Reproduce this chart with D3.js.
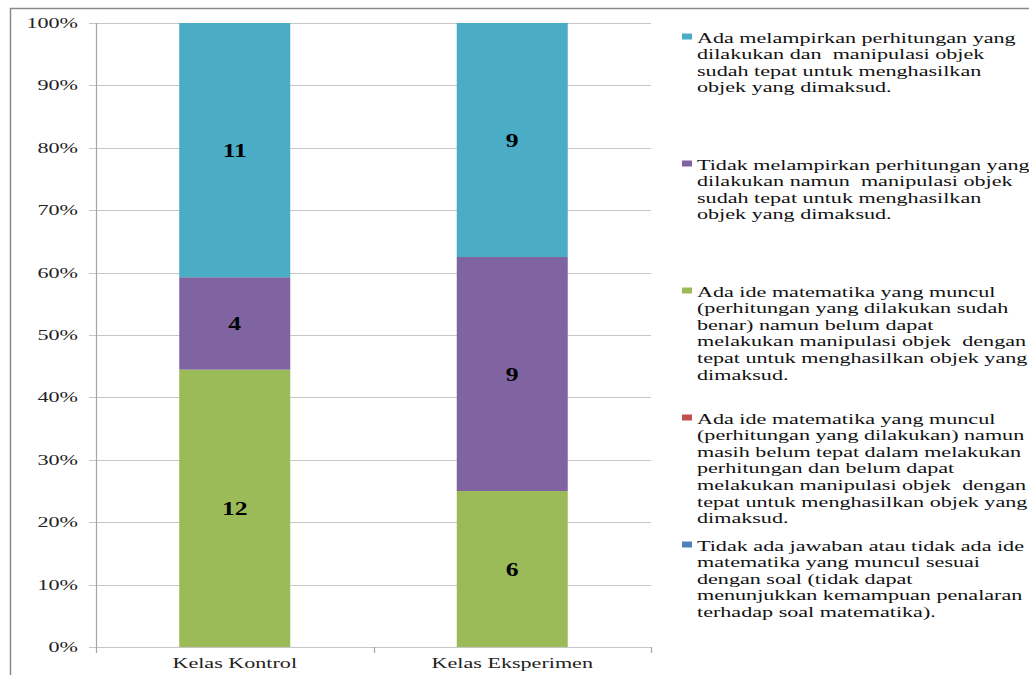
<!DOCTYPE html>
<html>
<head>
<meta charset="utf-8">
<script src="https://cdn.jsdelivr.net/npm/d3@7"></script>
<style>
html,body{margin:0;padding:0;background:#fff;}
svg{display:block;}
text{font-family:"Liberation Serif","Times New Roman",serif;white-space:pre;}
</style>
</head>
<body>
<svg id="chart" width="1029" height="675"></svg>
<script>
// ---- data ----
const categories = ["Kelas Kontrol", "Kelas Eksperimen"];
// series listed bottom-to-top in the stack
const seriesNames = [
  "Tidak ada jawaban atau tidak ada ide matematika yang muncul sesuai dengan soal",
  "Ada ide matematika yang muncul (perhitungan belum tepat)",
  "Ada ide matematika yang muncul (perhitungan sudah benar)",
  "Tidak melampirkan perhitungan",
  "Ada melampirkan perhitungan"
];
const valuesBlue   = [0, 0];
const valuesRed    = [0, 0];
const valuesGreen  = [12, 6];
const valuesPurple = [4, 9];
const valuesCyan   = [11, 9];
const seriesColors = ["#4F81BD", "#C0504D", "#9BBB59", "#8064A2", "#4BACC6"];
const yTicks = [0, 0.1, 0.2, 0.3, 0.4, 0.5, 0.6, 0.7, 0.8, 0.9, 1.0];
// legend text (top-to-bottom, reversed order of stack), as wrapped lines
const legendLines = [
  ["Ada melampirkan perhitungan yang", "dilakukan dan  manipulasi objek", "sudah tepat untuk menghasilkan", "objek yang dimaksud."],
  ["Tidak melampirkan perhitungan yang", "dilakukan namun  manipulasi objek", "sudah tepat untuk menghasilkan", "objek yang dimaksud."],
  ["Ada ide matematika yang muncul", "(perhitungan yang dilakukan sudah", "benar) namun belum dapat", "melakukan manipulasi objek  dengan", "tepat untuk menghasilkan objek yang", "dimaksud."],
  ["Ada ide matematika yang muncul", "(perhitungan yang dilakukan) namun", "masih belum tepat dalam melakukan", "perhitungan dan belum dapat", "melakukan manipulasi objek  dengan", "tepat untuk menghasilkan objek yang", "dimaksud."],
  ["Tidak ada jawaban atau tidak ada ide", "matematika yang muncul sesuai", "dengan soal (tidak dapat", "menunjukkan kemampuan penalaran", "terhadap soal matematika)."]
];
const legendColors = ["#4BACC6", "#8064A2", "#9BBB59", "#C0504D", "#4F81BD"];

// ---- layout ----
const svg = d3.select("#chart");
const SX = 1.58; // horizontal stretch of the text in the reference
const plot = {left: 96, right: 651, top: 23, bottom: 647};

// outer frame
svg.append("rect").attr("x", 10.5).attr("y", 8.5).attr("width", 1040).attr("height", 700)
  .attr("fill", "none").attr("stroke", "#8a8a8a").attr("stroke-width", 1.5);

const x = d3.scaleBand().domain(categories).range([plot.left, plot.right]).paddingInner(0.6).paddingOuter(0.3);
const xOuter = d3.scaleBand().domain(categories).range([plot.left, plot.right]);
const y = d3.scaleLinear().domain([0, 1]).range([plot.bottom, plot.top]);

// gridlines
svg.append("g").selectAll("line").data(yTicks).join("line")
  .attr("x1", plot.left - 7).attr("x2", plot.right)
  .attr("y1", d => Math.round(y(d)) + 0.5).attr("y2", d => Math.round(y(d)) + 0.5)
  .attr("stroke", "#c6c6c6").attr("stroke-width", 1.2);

// y axis line
svg.append("line").attr("x1", plot.left + 0.5).attr("x2", plot.left + 0.5)
  .attr("y1", plot.top).attr("y2", plot.bottom + 1)
  .attr("stroke", "#a6a6a6").attr("stroke-width", 1.2);

// x ticks at category boundaries
const bounds = [plot.left, ...categories.map(c => xOuter(c) + xOuter.bandwidth())];
svg.append("g").selectAll("line").data(bounds).join("line")
  .attr("x1", d => Math.round(d) + 0.5).attr("x2", d => Math.round(d) + 0.5)
  .attr("y1", plot.bottom).attr("y2", plot.bottom + 6)
  .attr("stroke", "#a6a6a6").attr("stroke-width", 1.2);

// y tick labels
svg.append("g").selectAll("text").data(yTicks).join("text")
  .attr("transform", d => `translate(78,${y(d) + 5}) scale(${SX},1)`)
  .attr("text-anchor", "end").attr("font-size", 14).attr("fill", "#222")
  .text(d => d3.format(".0%")(d));

// x labels
svg.append("g").selectAll("text").data(categories).join("text")
  .attr("transform", d => `translate(${xOuter(d) + xOuter.bandwidth() / 2},668) scale(${SX},1)`)
  .attr("text-anchor", "middle").attr("font-size", 14).attr("fill", "#222")
  .text(d => d);

// stacked data
const allValues = [valuesBlue, valuesRed, valuesGreen, valuesPurple, valuesCyan];
const rows = categories.map((c, i) => {
  const r = {category: c};
  seriesNames.forEach((s, k) => r[s] = allValues[k][i]);
  return r;
});
const stack = d3.stack().keys(seriesNames).offset(d3.stackOffsetExpand);
const stacked = stack(rows);

const groups = svg.append("g").selectAll("g").data(stacked).join("g")
  .attr("fill", (d, i) => seriesColors[i]);
groups.selectAll("rect").data(d => d).join("rect")
  .attr("x", d => x(d.data.category))
  .attr("width", x.bandwidth())
  .attr("y", d => y(d[1]))
  .attr("height", d => y(d[0]) - y(d[1]));

// value labels
stacked.forEach((s, k) => {
  s.forEach(d => {
    const v = d.data[s.key];
    if (!v) return;
    const cx = x(d.data.category) + x.bandwidth() / 2;
    const cy = (y(d[0]) + y(d[1])) / 2;
    svg.append("text")
      .attr("transform", `translate(${cx},${cy + 7}) scale(1.35,1)`)
      .attr("text-anchor", "middle").attr("font-size", 19).attr("font-weight", "bold")
      .attr("fill", "#000").text(v);
  });
});

// legend
const legendTop = 38, legendStep = 127, lineH = 16.6;
legendLines.forEach((lines, i) => {
  const cy = legendTop + i * legendStep;
  svg.append("rect").attr("x", 682).attr("y", cy - 4.5).attr("width", 10).attr("height", 6)
    .attr("fill", legendColors[i]);
  lines.forEach((ln, j) => {
    svg.append("text")
      .attr("transform", `translate(697,${cy + 4.5 + j * lineH}) scale(${SX},1)`)
      .attr("font-size", 14).attr("fill", "#111").text(ln);
  });
});
</script>
</body>
</html>
